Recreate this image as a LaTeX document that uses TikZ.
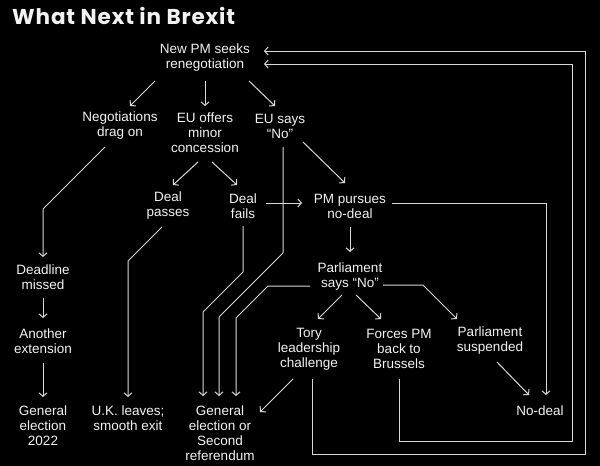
\documentclass[tikz,border=0pt]{standalone}
\usepackage{fontspec}
\setmainfont{Liberation Sans}
\newfontfamily\titlefont[LetterSpace=4]{Poppins}
\usetikzlibrary{arrows.meta,calc}
\definecolor{ink}{HTML}{F2F2F2}
\definecolor{wire}{HTML}{D8D8D8}
\tikzset{
  lbl/.style={text=ink, align=center, inner sep=0pt, font=\fontsize{13.5}{15}\selectfont},
  arr/.style={draw=wire, line width=1pt, -{Straight Barb[length=3.5pt,width=8pt,line width=1pt]}},
}
\begin{document}
\begin{tikzpicture}[x=1pt,y=-1pt]
\useasboundingbox (0,0) rectangle (600,466);
\fill[black] (0,0) rectangle (600,466);
\node[anchor=base west, text=ink, inner sep=0pt, font=\titlefont\bfseries\fontsize{21.5}{25}\selectfont] (title) at (12,24.5) {What Next in Brexit};

\node[lbl] (np) at (205,58) {New PM seeks\\renegotiation};
\node[lbl] (neg) at (120,126) {Negotiations\\drag on};
\node[lbl] (euo) at (205,133) {EU offers\\minor\\concession};
\node[lbl] (eun) at (280,126) {EU says\\``No''};
\node[lbl] (dp) at (168,206) {Deal\\passes};
\node[lbl] (df) at (243,206) {Deal\\fails};
\node[lbl] (pmp) at (350,206) {PM pursues\\no-deal};
\node[lbl] (psn) at (350,277) {Parliament\\says ``No''};
\node[lbl] (dm) at (43,277) {Deadline\\missed};
\node[lbl] (ae) at (43,341) {Another\\extension};
\node[lbl] (ge22) at (43,426) {General\\election\\2022};
\node[lbl] (uk) at (128,418) {U.K. leaves;\\smooth exit};
\node[lbl] (ge) at (220,433) {General\\election or\\Second\\referendum};
\node[lbl] (tory) at (309,349) {Tory\\leadership\\challenge};
\node[lbl] (fpm) at (399,349) {Forces PM\\back to\\Brussels};
\node[lbl] (ps) at (490,341) {Parliament\\suspended};
\node[lbl] (nd) at (540,411) {No-deal};

% from New PM
\draw[arr] ($(np)+(-50,23)$) -- ($(neg)+(10,-20)$);
\draw[arr] ($(np)+(0,23)$) -- ($(euo)+(0,-27)$);
\draw[arr] ($(np)+(44,23)$) -- ($(eun)+(-5,-20)$);
% negotiations drag on
\draw[arr] ($(neg)+(-15,21)$) -- (43,209) -- ($(dm)+(0,-20)$);
% EU offers
\draw[arr] ($(euo)+(-7,29)$) -- ($(dp)+(5,-21)$);
\draw[arr] ($(euo)+(7,29)$) -- ($(df)+(-6,-21)$);
% EU says no
\draw[arr] ($(eun)+(23,16)$) -- ($(pmp)+(-5,-23)$);
\draw[arr] ($(eun)+(3,21)$) -- (283,253) -- (219,317) -- ($(ge)+(-1,-37)$);
% deal fails
\draw[arr] ($(df)+(23,-3)$) -- ($(pmp)+(-48,-3)$);
\draw[arr] ($(df)+(0,20)$) -- (243,272) -- (203,312) -- ($(ge)+(-17,-37)$);
% deal passes
\draw[arr] ($(dp)+(-6,21)$) -- (128,261) -- ($(uk)+(0,-21)$);
% PM pursues
\draw[arr] ($(pmp)+(0,21)$) -- ($(psn)+(0,-25)$);
\draw[arr] ($(pmp)+(42,-3)$) -- (546,203) -- ($(nd)+(6,-16)$);
% Parliament says no
\draw[arr] ($(psn)+(-8,18)$) -- ($(tory)+(9,-30)$);
\draw[arr] ($(psn)+(6,18)$) -- ($(fpm)+(-18,-30)$);
\draw[arr] ($(psn)+(33,8)$) -- (423,285) -- ($(ps)+(-33,-22)$);
\draw[arr] ($(psn)+(-40,9)$) -- (268,286) -- (236,318) -- ($(ge)+(16,-37)$);
% parliament suspended
\draw[arr] ($(ps)+(7,21)$) -- ($(nd)+(-11,-16)$);
% deadline / extension
\draw[arr] ($(dm)+(0,21)$) -- ($(ae)+(0,-23)$);
\draw[arr] ($(ae)+(0,22)$) -- ($(ge22)+(0,-29)$);
% tory
\draw[arr] ($(tory)+(-16,30)$) -- ($(ge)+(40,-21)$);
\draw[arr] ($(tory)+(3,30)$) -- (312,454) -- (585,454) -- (585,51) -- ($(np)+(59,-7)$);
% forces PM
\draw[arr] ($(fpm)+(0,30)$) -- (399,441) -- (572,441) -- (572,64) -- ($(np)+(59,6)$);
\end{tikzpicture}
\end{document}
